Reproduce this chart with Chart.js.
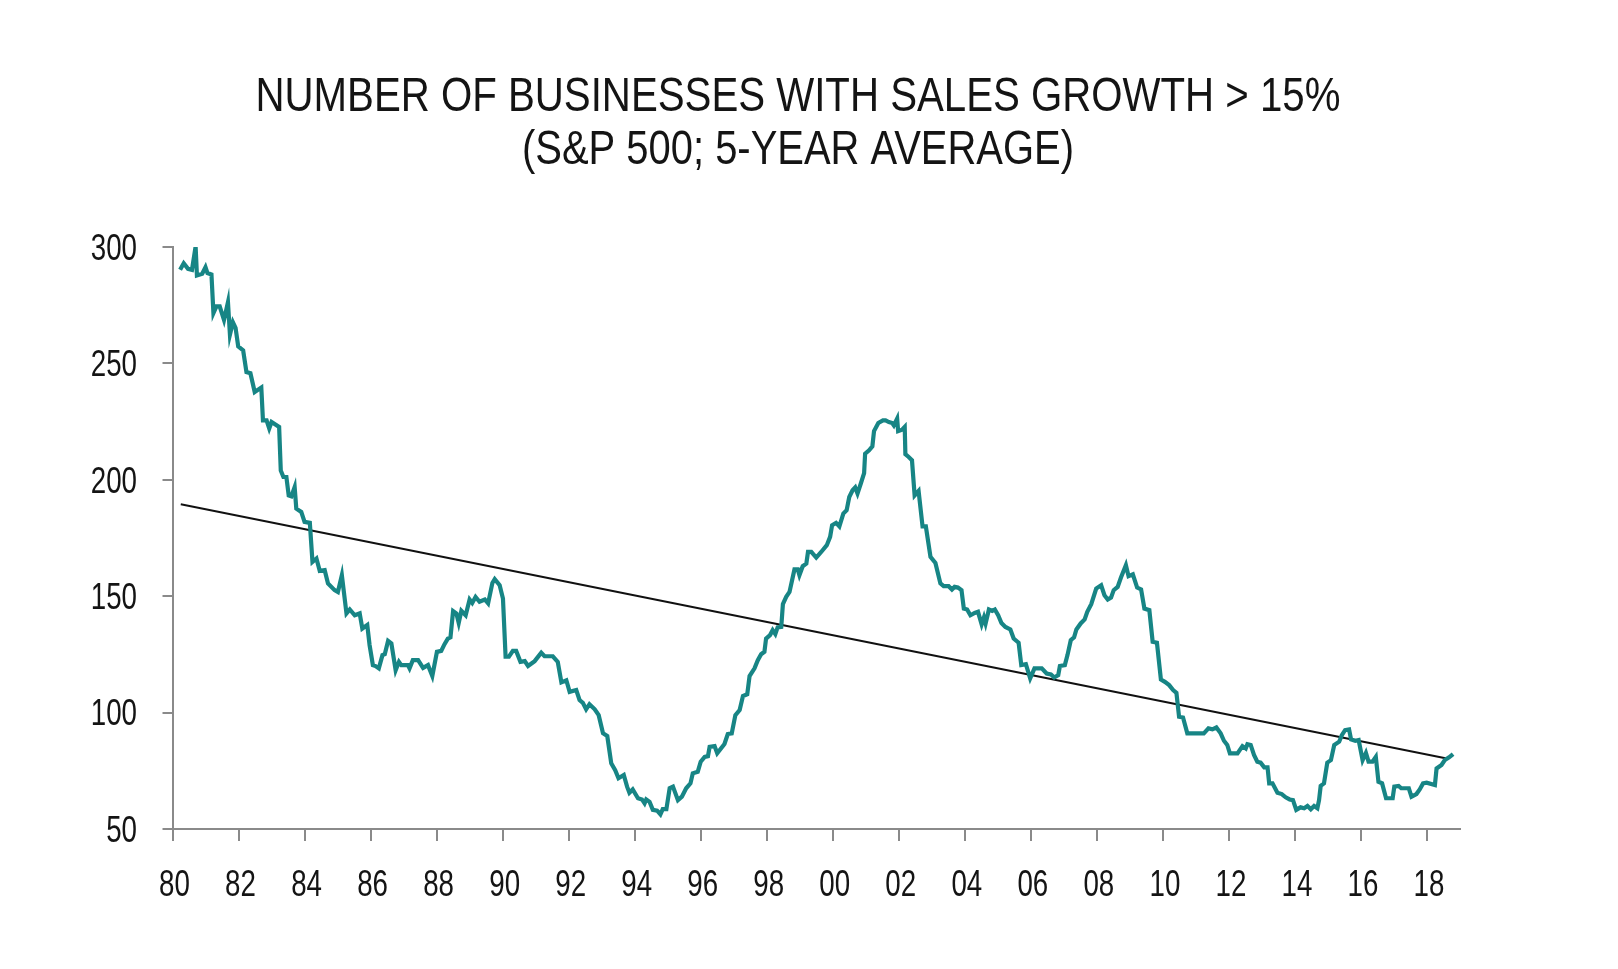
<!DOCTYPE html>
<html>
<head>
<meta charset="utf-8">
<script src="https://cdn.jsdelivr.net/npm/chart.js@4.4.1/dist/chart.umd.min.js"></script>
<style>
  body { margin: 0; background: #fff; }
</style>
</head>
<body>
<canvas id="myChart" width="1618" height="969"></canvas>
<script>
const titleLines = ["NUMBER OF BUSINESSES WITH SALES GROWTH > 15%", "(S&P 500; 5-YEAR AVERAGE)"];

// month positions as decimal years
const growthYears = [
  1980.23, 1980.34, 1980.47, 1980.59, 1980.70, 1980.74, 1980.90, 1981.00, 1981.06, 1981.18,
  1981.24, 1981.33, 1981.43, 1981.56, 1981.68, 1981.74, 1981.83, 1981.91, 1981.99, 1982.14,
  1982.24, 1982.36, 1982.49, 1982.69, 1982.74, 1982.85, 1982.93, 1983.00, 1983.23, 1983.28,
  1983.36, 1983.45, 1983.52, 1983.60, 1983.70, 1983.75, 1983.90, 1984.00, 1984.16, 1984.24,
  1984.36, 1984.46, 1984.61, 1984.71, 1984.91, 1985.01, 1985.13, 1985.27, 1985.37, 1985.52,
  1985.67, 1985.75, 1985.90, 1985.97, 1986.07, 1986.15, 1986.25, 1986.36, 1986.43, 1986.53,
  1986.63, 1986.76, 1986.86, 1986.93, 1987.13, 1987.18, 1987.28, 1987.44, 1987.59, 1987.74,
  1987.87, 1988.01, 1988.14, 1988.24, 1988.34, 1988.42, 1988.50, 1988.60, 1988.67, 1988.75,
  1988.88, 1989.00, 1989.08, 1989.18, 1989.30, 1989.46, 1989.56, 1989.69, 1989.76, 1989.91,
  1990.01, 1990.09, 1990.19, 1990.31, 1990.41, 1990.54, 1990.67, 1990.77, 1990.97, 1991.17,
  1991.27, 1991.52, 1991.67, 1991.78, 1991.93, 1992.03, 1992.23, 1992.33, 1992.43, 1992.53,
  1992.63, 1992.79, 1992.91, 1993.04, 1993.17, 1993.29, 1993.41, 1993.51, 1993.67, 1993.77,
  1993.84, 1993.94, 1994.10, 1994.22, 1994.30, 1994.35, 1994.45, 1994.55, 1994.68, 1994.78,
  1994.85, 1994.96, 1995.06, 1995.16, 1995.31, 1995.43, 1995.56, 1995.69, 1995.76, 1995.91,
  1996.00, 1996.12, 1996.22, 1996.27, 1996.42, 1996.50, 1996.72, 1996.82, 1996.94, 1997.05,
  1997.18, 1997.28, 1997.41, 1997.48, 1997.63, 1997.73, 1997.83, 1997.93, 1997.98, 1998.10,
  1998.18, 1998.26, 1998.33, 1998.44, 1998.49, 1998.59, 1998.69, 1998.84, 1998.94, 1998.99,
  1999.09, 1999.20, 1999.25, 1999.35, 1999.50, 1999.65, 1999.82, 1999.92, 1999.98, 2000.10,
  2000.20, 2000.32, 2000.42, 2000.50, 2000.60, 2000.68, 2000.75, 2000.85, 2000.95, 2000.98,
  2001.10, 2001.20, 2001.25, 2001.38, 2001.52, 2001.60, 2001.70, 2001.80, 2001.85, 2001.95,
  2001.98, 2002.10, 2002.18, 2002.20, 2002.30, 2002.40, 2002.48, 2002.60, 2002.72, 2002.82,
  2002.96, 2003.11, 2003.26, 2003.36, 2003.51, 2003.61, 2003.69, 2003.79, 2003.90, 2003.97,
  2004.07, 2004.17, 2004.30, 2004.40, 2004.51, 2004.58, 2004.63, 2004.73, 2004.83, 2004.91,
  2005.01, 2005.11, 2005.23, 2005.38, 2005.48, 2005.63, 2005.71, 2005.85, 2005.98, 2006.11,
  2006.33, 2006.48, 2006.61, 2006.71, 2006.83, 2006.88, 2007.03, 2007.11, 2007.21, 2007.31,
  2007.38, 2007.51, 2007.63, 2007.71, 2007.83, 2007.98, 2008.13, 2008.23, 2008.33, 2008.43,
  2008.51, 2008.63, 2008.73, 2008.88, 2008.96, 2009.09, 2009.22, 2009.34, 2009.44, 2009.59,
  2009.69, 2009.82, 2009.94, 2010.06, 2010.19, 2010.31, 2010.41, 2010.49, 2010.61, 2010.74,
  2011.24, 2011.38, 2011.50, 2011.62, 2011.75, 2011.85, 2011.95, 2012.03, 2012.26, 2012.41,
  2012.51, 2012.56, 2012.66, 2012.76, 2012.86, 2012.96, 2013.07, 2013.17, 2013.22, 2013.32,
  2013.47, 2013.60, 2013.72, 2013.84, 2013.94, 2014.04, 2014.17, 2014.28, 2014.38, 2014.48,
  2014.58, 2014.68, 2014.73, 2014.78, 2014.88, 2014.98, 2015.09, 2015.19, 2015.34, 2015.42,
  2015.52, 2015.64, 2015.70, 2015.83, 2015.93, 2016.05, 2016.15, 2016.23, 2016.35, 2016.45,
  2016.53, 2016.64, 2016.76, 2016.96, 2017.01, 2017.14, 2017.22, 2017.45, 2017.53, 2017.68,
  2017.78, 2017.88, 2017.99, 2018.24, 2018.29, 2018.44, 2018.54, 2018.67, 2018.79
];

const growthValues = [
  290.2, 293.0, 290.6, 290.2, 300.2, 287.8, 288.5, 291.3, 288.8, 288.2,
  271.6, 274.5, 274.5, 268.7, 276.3, 262.4, 267.7, 265.3, 257.3, 255.6,
  246.3, 245.8, 237.7, 239.6, 225.5, 225.5, 222.0, 224.8, 222.7, 204.0,
  201.2, 201.2, 193.3, 192.9, 196.9, 187.6, 186.2, 181.9, 181.5, 164.7,
  166.2, 160.9, 161.2, 155.5, 152.6, 151.8, 159.0, 142.6, 144.3, 141.8,
  142.6, 136.1, 137.6, 129.0, 120.4, 120.0, 119.0, 124.7, 125.1, 130.8,
  129.7, 118.2, 121.8, 120.4, 120.4, 119.0, 122.5, 122.5, 119.2, 120.4,
  115.7, 126.1, 126.5, 129.4, 131.8, 132.3, 143.6, 142.6, 138.5, 143.7,
  141.8, 148.6, 147.1, 149.7, 147.6, 148.6, 146.9, 155.7, 157.3, 154.7,
  149.0, 124.0, 124.0, 126.5, 126.5, 121.8, 122.1, 120.0, 122.1, 125.7,
  124.2, 124.2, 121.8, 113.0, 113.9, 108.9, 109.7, 105.4, 104.2, 101.4,
  103.6, 101.4, 98.9, 91.1, 89.9, 78.2, 75.3, 71.8, 73.2, 68.2,
  65.6, 67.0, 63.2, 62.7, 61.0, 62.7, 61.7, 58.2, 57.9, 56.3,
  58.5, 58.5, 67.5, 68.2, 62.4, 63.9, 67.5, 69.6, 73.9, 74.6,
  78.9, 81.0, 81.3, 85.3, 85.6, 82.5, 86.5, 90.8, 91.1, 98.9,
  101.1, 107.1, 107.9, 115.7, 119.0, 122.5, 125.1, 126.1, 131.8, 133.3,
  135.4, 133.7, 136.6, 136.8, 146.6, 149.7, 151.8, 161.5, 161.5, 159.0,
  162.9, 164.0, 169.0, 169.0, 166.6, 169.0, 171.9, 175.5, 180.5, 181.5,
  180.0, 185.5, 186.9, 192.6, 195.5, 196.7, 194.1, 198.4, 202.9, 211.2,
  212.7, 214.4, 220.9, 224.4, 225.5, 225.5, 224.8, 224.4, 223.4, 226.3,
  220.9, 221.5, 222.7, 211.0, 209.8, 208.4, 193.3, 195.2, 180.0, 180.0,
  166.9, 164.3, 155.5, 154.3, 154.3, 152.9, 154.0, 153.7, 152.6, 144.7,
  144.3, 141.8, 142.8, 143.3, 137.9, 140.9, 138.3, 144.3, 143.7, 144.3,
  141.8, 138.5, 136.8, 135.7, 131.8, 130.0, 120.4, 120.8, 114.7, 119.0,
  119.0, 116.8, 116.4, 115.1, 116.1, 120.0, 120.4, 124.7, 131.1, 132.3,
  135.7, 138.3, 140.0, 143.3, 146.6, 153.3, 154.7, 150.4, 148.6, 149.4,
  152.6, 154.0, 158.0, 163.3, 158.6, 159.4, 153.7, 152.9, 144.7, 144.0,
  130.4, 130.0, 114.2, 113.2, 111.8, 109.7, 108.5, 98.2, 97.9, 91.1,
  91.1, 93.2, 92.8, 93.6, 91.1, 87.9, 86.1, 82.5, 82.5, 85.6,
  84.6, 86.4, 86.1, 81.8, 78.9, 78.5, 76.5, 76.5, 69.6, 69.6,
  65.6, 65.0, 63.6, 62.7, 62.4, 58.2, 59.3, 58.9, 59.9, 58.5,
  59.9, 58.9, 62.4, 68.5, 69.6, 78.5, 79.6, 86.1, 87.5, 90.3,
  92.5, 92.8, 88.5, 87.9, 88.2, 79.6, 82.7, 78.9, 78.9, 81.0,
  70.3, 69.6, 63.2, 63.2, 68.2, 68.5, 67.5, 67.5, 63.9, 65.0,
  67.0, 69.6, 69.9, 68.9, 76.0, 77.5, 79.6, 80.8, 82.2
];

// linear trend, end points only
const trendYears = [1980.25, 2018.6];
const trendValues = [189.5, 80.3];

const yTicks = [50, 100, 150, 200, 250, 300];

const fontFamily = "'Liberation Sans', 'DejaVu Sans', sans-serif";
const axisGray = "#8a8a8a";
const textColor = "#141414";

// no condensed face installed, so text is squeezed sideways by hand
function narrowText(c, text, x, y, sx) {
  c.save();
  c.translate(x, y);
  c.scale(sx, 1);
  c.fillText(text, 0, 0);
  c.restore();
}

const titleBox = { centerX: 798, baselines: [110.5, 163.5], widths: [1085, 552], size: 48 };

const condensedText = {
  id: "condensedText",
  afterDraw(chart) {
    const c = chart.ctx;
    c.save();
    c.fillStyle = textColor;
    c.textBaseline = "alphabetic";

    // title
    c.font = titleBox.size + "px " + fontFamily;
    c.textAlign = "center";
    titleLines.forEach((line, i) => {
      const sx = titleBox.widths[i] / c.measureText(line).width;
      narrowText(c, line, titleBox.centerX, titleBox.baselines[i], sx);
    });

    // tick labels, taken from the scales' own ticks
    const xs = chart.scales.x;
    const ys = chart.scales.y;
    c.font = "36px " + fontFamily;
    c.textAlign = "right";
    ys.ticks.forEach((t) => {
      narrowText(c, String(t.value), ys.right - 35.5, ys.getPixelForValue(t.value) + 12.8, 0.77);
    });
    c.textAlign = "center";
    xs.ticks.forEach((t) => {
      const label = String(t.value % 100).padStart(2, "0");
      narrowText(c, label, xs.getPixelForValue(t.value) + 2, xs.top + 67, 0.77);
    });
    c.restore();
  },
};

const ctx = document.getElementById("myChart");

new Chart(ctx, {
  type: "line",
  data: {
    datasets: [
      {
        label: "Businesses",
        data: growthYears.map((x, i) => ({ x: x, y: growthValues[i] })),
        borderColor: "#178585",
        borderWidth: 4.2,
        pointRadius: 0,
        tension: 0,
      },
      {
        label: "Trend",
        data: trendYears.map((x, i) => ({ x: x, y: trendValues[i] })),
        borderColor: "#111111",
        borderWidth: 2,
        pointRadius: 0,
        tension: 0,
      },
    ],
  },
  plugins: [condensedText],
  options: {
    responsive: false,
    animation: false,
    layout: { padding: { top: 247, left: 62, right: 158, bottom: 60 } },
    plugins: {
      legend: { display: false },
      tooltip: { enabled: false },
      title: { display: false },
    },
    scales: {
      x: {
        type: "linear",
        min: 1980,
        max: 2019,
        afterFit: (scale) => { scale.height = 80; },
        grid: { drawOnChartArea: false, drawTicks: true, tickLength: 12, color: axisGray, lineWidth: 2 },
        border: { display: true, color: axisGray, width: 2 },
        ticks: {
          display: false,
          stepSize: 2,
          includeBounds: false,
          autoSkip: false,
          maxRotation: 0,
        },
      },
      y: {
        min: yTicks[0],
        max: yTicks[yTicks.length - 1],
        afterFit: (scale) => { scale.width = 110.5; },
        grid: { drawOnChartArea: false, drawTicks: true, tickLength: 10, color: axisGray, lineWidth: 2 },
        border: { display: true, color: axisGray, width: 2 },
        ticks: {
          display: false,
          stepSize: 50,
        },
      },
    },
  },
});
</script>
</body>
</html>
